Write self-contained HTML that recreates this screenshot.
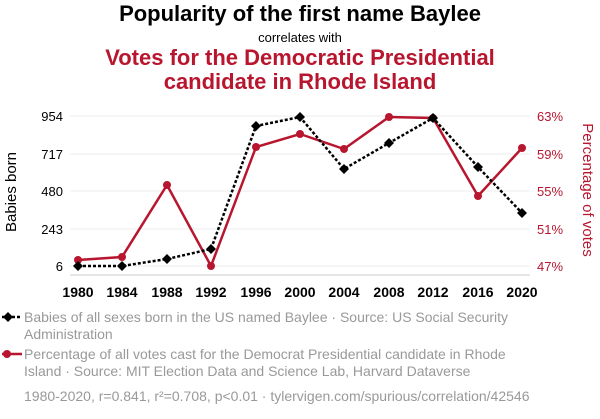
<!DOCTYPE html>
<html><head><meta charset="utf-8"><style>
body{margin:0;background:#fff;width:600px;height:414px;overflow:hidden;font-family:"Liberation Sans",sans-serif}
</style></head><body>
<svg width="600" height="414" xmlns="http://www.w3.org/2000/svg" font-family="Liberation Sans, sans-serif">
<text x="300" y="21" text-anchor="middle" font-size="22" font-weight="bold" fill="#000">Popularity of the first name Baylee</text>
<text x="300" y="42" text-anchor="middle" font-size="13" fill="#000">correlates with</text>
<text x="300" y="65" text-anchor="middle" font-size="22" font-weight="bold" fill="#b8162f">Votes for the Democratic Presidential</text>
<text x="300" y="89" text-anchor="middle" font-size="22" font-weight="bold" fill="#b8162f">candidate in Rhode Island</text>
<g stroke="#eee" stroke-width="1">
<line x1="70" x2="530" y1="116" y2="116"/><line x1="70" x2="530" y1="154" y2="154"/><line x1="70" x2="530" y1="191" y2="191"/><line x1="70" x2="530" y1="229" y2="229"/><line x1="70" x2="530" y1="266" y2="266"/>
</g>
<line x1="70" x2="530" y1="275" y2="275" stroke="#ccc"/>
<g font-size="13" fill="#000" text-anchor="end">
<text x="63" y="121">954</text><text x="63" y="159">717</text><text x="63" y="196">480</text><text x="63" y="234">243</text><text x="63" y="271">6</text>
</g>
<g font-size="13" fill="#b8162f" text-anchor="start">
<text x="537" y="121">63%</text><text x="537" y="159">59%</text><text x="537" y="196">55%</text><text x="537" y="234">51%</text><text x="537" y="271">47%</text>
</g>
<g font-size="14" font-weight="bold" fill="#000" text-anchor="middle">
<text x="78" y="297">1980</text><text x="122" y="297">1984</text><text x="167" y="297">1988</text><text x="211" y="297">1992</text><text x="256" y="297">1996</text><text x="300" y="297">2000</text><text x="344" y="297">2004</text><text x="389" y="297">2008</text><text x="433" y="297">2012</text><text x="478" y="297">2016</text><text x="522" y="297">2020</text>
</g>
<text transform="translate(16,192) rotate(-90)" text-anchor="middle" font-size="15" fill="#000">Babies born</text>
<text transform="translate(583,190) rotate(90)" text-anchor="middle" font-size="15" fill="#b8162f">Percentage of votes</text>
<polyline fill="none" stroke="#b8162f" stroke-width="2.5" points="78,260 122,257 167,185 211,266 256,147 300,134 344,149 389,117 433,118 478,196 522,148"/>
<g fill="#b8162f">
<circle cx="78" cy="260" r="4"/><circle cx="122" cy="257" r="4"/><circle cx="167" cy="185" r="4"/><circle cx="211" cy="266" r="4"/><circle cx="256" cy="147" r="4"/><circle cx="300" cy="134" r="4"/><circle cx="344" cy="149" r="4"/><circle cx="389" cy="117" r="4"/><circle cx="433" cy="118" r="4"/><circle cx="478" cy="196" r="4"/><circle cx="522" cy="148" r="4"/>
</g>
<polyline fill="none" stroke="#000" stroke-width="2.5" stroke-dasharray="3,2" points="78,266 122,266 167,259 211,249 256,126 300,117 344,169 389,143 433,118 478,167 522,213"/>
<g fill="#000">
<path d="M78 261l5 5-5 5-5-5z"/><path d="M122 261l5 5-5 5-5-5z"/><path d="M167 254l5 5-5 5-5-5z"/><path d="M211 244l5 5-5 5-5-5z"/><path d="M256 121l5 5-5 5-5-5z"/><path d="M300 112l5 5-5 5-5-5z"/><path d="M344 164l5 5-5 5-5-5z"/><path d="M389 138l5 5-5 5-5-5z"/><path d="M433 113l5 5-5 5-5-5z"/><path d="M478 162l5 5-5 5-5-5z"/><path d="M522 208l5 5-5 5-5-5z"/>
</g>
<line x1="2" x2="22" y1="317" y2="317" stroke="#000" stroke-width="2.5" stroke-dasharray="3,2"/>
<path d="M8 312l5 5-5 5-5-5z" fill="#000"/>
<g font-size="14" fill="#999">
<text x="24" y="322">Babies of all sexes born in the US named Baylee · Source: US Social Security</text>
<text x="24" y="339">Administration</text>
<text x="24" y="359">Percentage of all votes cast for the Democrat Presidential candidate in Rhode</text>
<text x="24" y="376">Island · Source: MIT Election Data and Science Lab, Harvard Dataverse</text>
<text x="24" y="401">1980-2020, r=0.841, r²=0.708, p&lt;0.01 · tylervigen.com/spurious/correlation/42546</text>
</g>
<line x1="2" x2="22" y1="354" y2="354" stroke="#b8162f" stroke-width="2.5"/>
<circle cx="7" cy="354" r="4" fill="#b8162f"/>
</svg>
</body></html>
